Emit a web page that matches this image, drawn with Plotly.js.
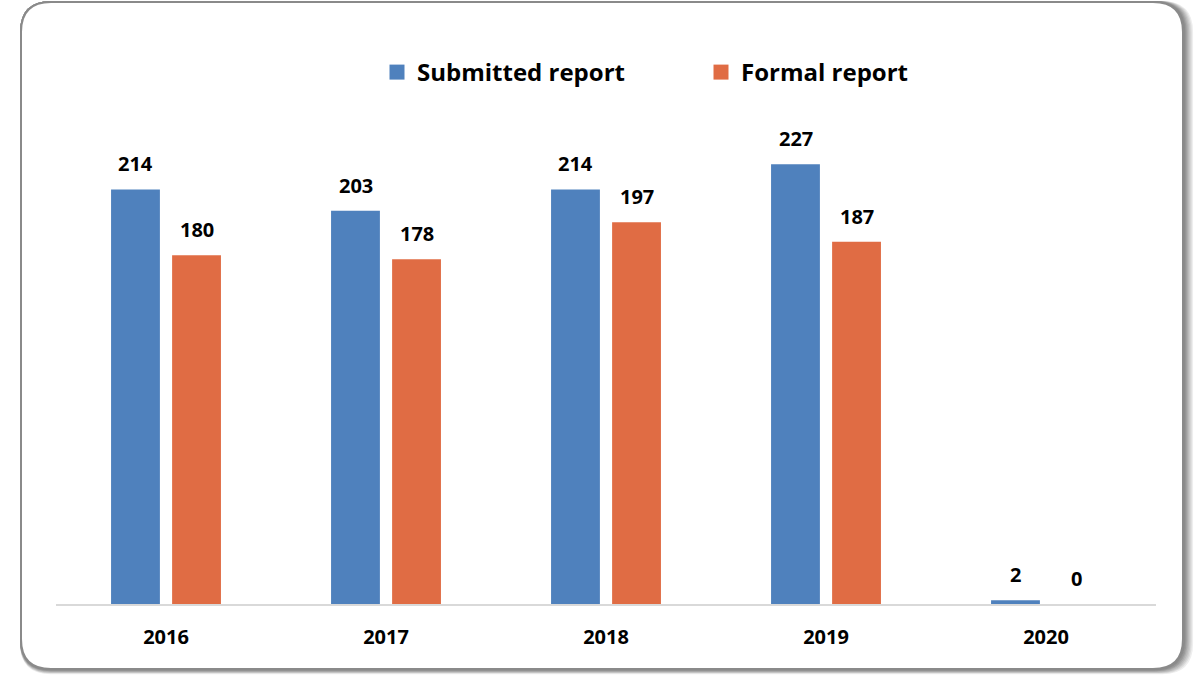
<!DOCTYPE html>
<html><head><meta charset="utf-8">
<script src="https://cdn.plot.ly/plotly-3.0.1.min.js"></script>
<style>html,body{margin:0;padding:0;background:#fff}#chart{width:1194px;height:676px}</style>
</head><body><div id="chart"></div>
<script>
const years = ['2016','2017','2018','2019','2020'];
const submitted = [214, 203, 214, 227, 2];
const formal = [180, 178, 197, 187, 0];
const seriesNames = ['Submitted report', 'Formal report'];
const colors = ['#4f81bd', '#e06c44'];

const W = 1194, H = 676;
const mL = 56, mR = 38, mT = 139, mB = 72;
const pw = W - mL - mR, ph = H - mT - mB;
const px = x => (x - mL) / pw;
const py = y => (H - mB - y) / ph;
function roundRect(x0, y0, x1, y1, r) {
  return `M ${px(x0+r)} ${py(y0)} L ${px(x1-r)} ${py(y0)} Q ${px(x1)} ${py(y0)} ${px(x1)} ${py(y0+r)} ` +
    `L ${px(x1)} ${py(y1-r)} Q ${px(x1)} ${py(y1)} ${px(x1-r)} ${py(y1)} L ${px(x0+r)} ${py(y1)} ` +
    `Q ${px(x0)} ${py(y1)} ${px(x0)} ${py(y1-r)} L ${px(x0)} ${py(y0+r)} Q ${px(x0)} ${py(y0)} ${px(x0+r)} ${py(y0)} Z`;
}
const shapes = [];
const shadowCols = ['#eeeeee','#dddddd','#cccccc','#bbbbbb','#aaaaaa','#999999','#8c8c8c'];
for (let i = shadowCols.length; i >= 1; i--) {
  shapes.push({type:'path', xref:'paper', yref:'paper', path: roundRect(21, 2, 1183 + i*1.3, 669 + i*0.6, 30),
    line:{color: shadowCols[shadowCols.length - i], width: 2}, fillcolor:'rgba(0,0,0,0)', layer:'below'});
}
shapes.push({type:'path', xref:'paper', yref:'paper', path: roundRect(21, 2, 1183, 669, 30),
  line:{color:'#8a8a8a', width:2}, fillcolor:'#ffffff', layer:'below'});

const font = '"Open Sans", Lato, sans-serif';
const slot = 61;
const data = [submitted, formal].map((vals, i) => ({
  type:'bar', x: years, y: vals, name: seriesNames[i],
  marker:{color: colors[i]}, showlegend:false, hoverinfo:'none'
}));
seriesNames.forEach((n, i) => data.push({
  type:'scatter', mode:'markers', x: years, y: years.map(() => null), name:n,
  marker:{symbol:'square', size:15, color:colors[i]}, showlegend:true, hoverinfo:'none'
}));

const annotations = [];
[submitted, formal].forEach((vals, i) => {
  vals.forEach((v, j) => annotations.push({
    x: j, y: v, xref:'x', yref:'y', text: String(v), showarrow:false,
    xshift: (i === 0 ? -1 : 1) * slot / 2, yshift: 10, yanchor:'bottom',
    font:{family: font, size:20, color:'#000', weight:'bold'}
  }));
});

const layout = {
  width: W, height: H,
  margin:{l:mL, r:mR, t:mT, b:mB, pad:0},
  paper_bgcolor:'#ffffff', plot_bgcolor:'rgba(0,0,0,0)',
  barmode:'group', bargap:0.445, bargroupgap:0.2,
  font:{family: font, color:'#000'},
  showlegend:true,
  legend:{orientation:'h', x:px(377), xanchor:'left', y:py(50), yanchor:'top',
    font:{family: font, size:24, color:'#000', weight:'bold'},
    itemwidth:30, traceorder:'normal', bgcolor:'rgba(0,0,0,0)', entrywidth:279, entrywidthmode:'pixels'},
  xaxis:{type:'category', categoryorder:'array', categoryarray: years, range:[-0.5, years.length - 0.5],
    showline:true, linecolor:'#d9d9d9', linewidth:1.5, ticks:'',
    tickfont:{family: font, size:20, color:'#000', weight:'bold'}, showgrid:false, zeroline:false,
    ticklabelstandoff:14},
  yaxis:{range:[0,240], visible:false, showgrid:false, zeroline:false},
  shapes: shapes,
  annotations: annotations
};
Plotly.newPlot('chart', data, layout, {displayModeBar:false, staticPlot:true});
</script></body></html>
